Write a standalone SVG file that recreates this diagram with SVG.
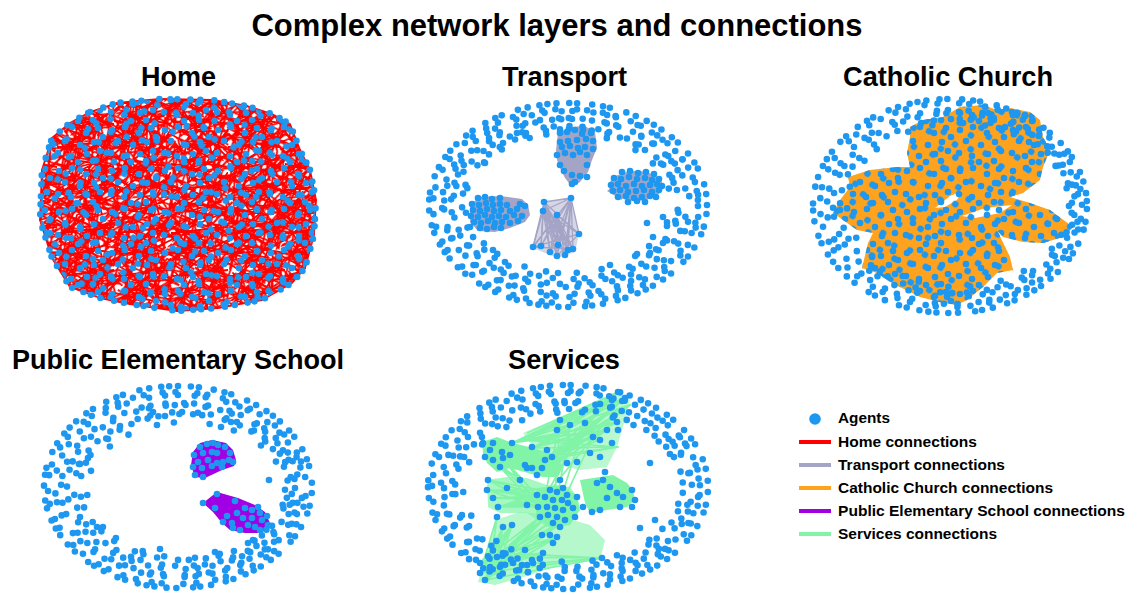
<svg xmlns="http://www.w3.org/2000/svg" width="1141" height="595" viewBox="0 0 1141 595">
<style>
text{font-family:"Liberation Sans",Arial,Helvetica,sans-serif;font-weight:bold;fill:#000}
.h1{font-size:31px}
.h2{font-size:27px}
.lg{font-size:15.5px}
.ring{fill:none;stroke:#1d97f0;stroke-width:6.6;stroke-linecap:round}
.da{stroke-dasharray:0 9 0 13 0 8 0 15 0 11 0 7 0 17 0 10 0 12 0 8}
.db{stroke-dasharray:0 12 0 8 0 14 0 9 0 16 0 10 0 7 0 13 0 11 0 9}
.dc{stroke-dasharray:0 14 0 10 0 8 0 12 0 9 0 18 0 11 0 7 0 13 0 10}
.sa{stroke-dasharray:0 13 0 17 0 11 0 21 0 14 0 9 0 23 0 16}
.sb{stroke-dasharray:0 16 0 11 0 19 0 13 0 22 0 10 0 16 0 13}
.sc{stroke-dasharray:0 19 0 10 0 14 0 22 0 12 0 18 0 9 0 15}
.sd{stroke-dasharray:0 11 0 20 0 15 0 12 0 25 0 13 0 17 0 9}
.se{stroke-dasharray:0 22 0 30 0 17 0 36 0 25 0 31}
.pts{fill:none;stroke:none;marker-start:url(#dot);marker-mid:url(#dot);marker-end:url(#dot)}
.hd circle{fill:#1d97f0}
.red{fill:none;stroke:#ff0000;stroke-width:1.8;stroke-linecap:round;stroke-linejoin:round}
.gry{fill:none;stroke:#a4a4c6;stroke-width:1.3;stroke-linejoin:round}
.org{fill:none;stroke:#ffa31e;stroke-width:1.4;stroke-linejoin:round}
.grn{fill:none;stroke:#82f4a8;stroke-width:1.7;stroke-linejoin:round}
</style>
<defs>
<marker id="dot" viewBox="-4 -4 8 8" refX="0" refY="0" markerWidth="8" markerHeight="8" markerUnits="userSpaceOnUse"><circle r="3.3" fill="#1d97f0"/></marker>
<!-- scattered agent tiles -->
<pattern id="hd1" class="hd" width="53" height="41" patternUnits="userSpaceOnUse">
<circle cx="6" cy="7" r="3.3"/><circle cx="19" cy="4" r="3.3"/><circle cx="33" cy="10" r="3.3"/><circle cx="45" cy="5" r="3.3"/><circle cx="12" cy="18" r="3.3"/><circle cx="27" cy="22" r="3.3"/><circle cx="41" cy="19" r="3.3"/><circle cx="50" cy="14" r="3.3"/><circle cx="-3" cy="14" r="3.3"/><circle cx="5" cy="30" r="3.3"/><circle cx="18" cy="33" r="3.3"/><circle cx="34" cy="31" r="3.3"/><circle cx="47" cy="28" r="3.3"/><circle cx="25" cy="39" r="3.3"/><circle cx="25" cy="-2" r="3.3"/><circle cx="40" cy="38" r="3.3"/><circle cx="40" cy="-3" r="3.3"/>
</pattern>
<pattern id="hd2" class="hd" width="67" height="59" patternUnits="userSpaceOnUse" patternTransform="rotate(31)">
<circle cx="8" cy="6" r="3.3"/><circle cx="24" cy="12" r="3.3"/><circle cx="39" cy="4" r="3.3"/><circle cx="55" cy="9" r="3.3"/><circle cx="15" cy="24" r="3.3"/><circle cx="31" cy="29" r="3.3"/><circle cx="47" cy="21" r="3.3"/><circle cx="62" cy="26" r="3.3"/><circle cx="6" cy="40" r="3.3"/><circle cx="22" cy="45" r="3.3"/><circle cx="38" cy="41" r="3.3"/><circle cx="53" cy="37" r="3.3"/><circle cx="12" cy="56" r="3.3"/><circle cx="12" cy="-3" r="3.3"/><circle cx="29" cy="56" r="3.3"/><circle cx="29" cy="-3" r="3.3"/><circle cx="45" cy="52" r="3.3"/><circle cx="60" cy="47" r="3.3"/><circle cx="36" cy="17" r="3.3"/>
</pattern>
<!-- household edge tiles -->
<pattern id="hl1" width="57" height="43" patternUnits="userSpaceOnUse">
<path class="red" d="M0 5L40 30M10 0L55 20M3 43L50 8M20 43L57 25M0 25L30 0M25 43L5 15M45 43L35 0M57 38L12 30M0 18L57 12M30 43L57 0M8 43L20 0M40 43L0 35M50 30L15 40M57 5L28 22"/>
</pattern>
<pattern id="hl2" width="71" height="61" patternUnits="userSpaceOnUse" patternTransform="rotate(23)">
<path class="red" d="M0 10L60 40M15 0L70 35M0 55L45 5M25 61L71 20M5 30L40 0M35 61L10 20M60 61L52 0M71 50L20 42M0 25L71 15M40 61L71 5M12 61L30 0M55 61L0 48M66 30L22 55M71 8L35 30M3 0L25 61"/>
</pattern>
<pattern id="hl3" width="43" height="37" patternUnits="userSpaceOnUse" patternTransform="rotate(-41)">
<path class="red" d="M0 4L30 26M8 0L42 16M2 37L38 6M15 37L43 20M0 20L24 0M20 37L4 12M34 37L28 0M43 30L10 24M0 14L43 9M24 37L43 0M5 37L12 0"/>
</pattern>
<pattern id="hl4" width="49" height="53" patternUnits="userSpaceOnUse" patternTransform="rotate(67)">
<path class="red" d="M0 8L49 30M6 0L20 53M0 40L38 0M22 53L49 12M0 22L44 53M30 0L49 45M0 50L49 3M14 0L0 33M35 53L3 0M49 20L10 53"/>
</pattern>
<polygon id="homeShape" points="90,112 117,103 160,99 212,100 247,106 272,114 290,124 300,150 310,170 316,200 314,235 305,268 292,283 262,300 218,308 177,311 130,304 100,298 70,287 52,258 40,220 42,170 52,138 70,123"/>
<polygon id="churchShape" points="910,127 923,120 943,117 960,107 983,105 997,110 1010,108 1030,112 1040,120 1043,137 1050,150 1043,167 1040,180 1023,193 1010,197 1030,203 1050,210 1073,227 1063,237 1043,243 1023,242 1003,237 997,230 1010,257 1013,270 997,273 983,287 967,300 957,305 943,303 920,297 900,287 887,280 877,273 862,268 868,243 873,233 857,230 843,220 833,213 840,200 850,187 848,177 870,170 897,167 910,167 907,153 910,137"/>
</defs>

<rect width="1141" height="595" fill="#fff"/>

<text class="h1" x="557" y="36" text-anchor="middle" textLength="611" lengthAdjust="spacingAndGlyphs">Complex network layers and connections</text>

<!-- Home layer -->
<g id="home">
<text class="h2" x="178.5" y="86" text-anchor="middle" textLength="75" lengthAdjust="spacingAndGlyphs">Home</text>
<g id="home-edges">
<use href="#homeShape" fill="url(#hl1)"/>
<use href="#homeShape" fill="url(#hl2)"/>
<use href="#homeShape" fill="url(#hl3)"/>
<use href="#homeShape" fill="url(#hl4)"/>
<use href="#homeShape" class="red"/>
<path class="red" d="M90 112L130 140M117 103L150 130M272 114L240 150M300 150L270 170M316 200L280 190M305 268L270 250M262 300L240 270M177 311L190 280M100 298L130 270M52 258L80 240M40 220L75 210M42 170L80 180M52 138L90 150M70 123L120 160M160 99L140 140M247 106L220 140M290 283L250 260M130 304L160 270M45 190L110 230M310 170L250 200M212 100L260 150M70 287L120 250M60 200L150 260M200 130L300 230M90 270L230 210M120 120L60 240M250 290L300 180M150 180L280 270"/>
</g>
<g id="home-agents">
<use href="#homeShape" fill="url(#hd1)"/>
<use href="#homeShape" fill="url(#hd2)"/>
<use href="#homeShape" class="ring dc"/>
</g>
</g>

<!-- Transport layer -->
<g id="transport">
<text class="h2" x="564.5" y="86" text-anchor="middle" textLength="125" lengthAdjust="spacingAndGlyphs">Transport</text>
<g id="transport-edges">
<polygon fill="#a4a4c6" points="556,150 558,133 570,127 585,126 595,132 597,148 592,160 588,172 580,182 572,187 565,178 560,168 557,160"/>
<ellipse fill="#a4a4c6" cx="636" cy="186" rx="27" ry="15"/>
<polygon fill="#a4a4c6" points="607,191 622,179 622,200"/>
<polygon fill="#a4a4c6" points="470,205 480,197 500,196 522,199 528,205 530,215 525,222 510,228 495,232 478,231 470,222"/>
<polygon fill="#a4a4c6" opacity="0.45" points="544,202 571,198 579,234 575,252 557,258 533,248"/>
<path class="gry" d="M544 202L579 234L571 198L533 247L544 202L541 246L571 198L550 252L544 202L557 256L571 198L565 255L544 202L573 249L571 198L558 245L544 202L567 243L571 198L568 250L544 202L571 198"/>
<path class="gry" d="M543 211L579 234L557 215L533 247L543 211L541 246L557 215L550 252L543 211L557 256L557 215L565 255L543 211L573 249L557 215L558 245L543 211L567 243L557 215L568 250L543 211L571 198M579 234L533 247M579 234L557 256M533 247L573 249"/>
</g>
<g id="transport-agents">
<ellipse class="ring da" cx="568" cy="205" rx="139" ry="102"/>
<ellipse class="ring sb" cx="566" cy="206" rx="133" ry="97" style="stroke-dashoffset:5"/>
<ellipse class="ring sa" cx="570" cy="204" rx="128" ry="93" style="stroke-dashoffset:11"/>
<ellipse class="ring sc" cx="567" cy="206" rx="123" ry="88" style="stroke-dashoffset:3"/>
<ellipse class="ring sd" cx="569" cy="203" rx="118" ry="84" style="stroke-dashoffset:17"/>
<ellipse class="ring sb" cx="566" cy="205" rx="113" ry="79" style="stroke-dashoffset:8"/>
<ellipse class="ring sa" cx="570" cy="204" rx="108" ry="75" style="stroke-dashoffset:24"/>
<ellipse class="ring se" cx="568" cy="203" rx="103" ry="70" style="stroke-dashoffset:2"/>
<path class="pts" d="M485 163 503 143 517 133 526 133 470 227 647 223 663 217 667 226 558 273 610 265 637 254 650 253 653 237 663 243 493 250 505 262"/>
<path class="pts" d="M560 133 567 132 575 130 583 130 591 133 560 142 568 141 577 140 586 139 593 141 562 147 570 146 578 148 585 147 593 149 557 155 565 153 573 155 580 152 587 155 560 165 587 165 564 171 572 175 580 176 587 177 575 182 572 184"/>
<path class="pts" d="M622 172 630 171 638 173 646 172 654 174 614 178 621 179 629 177 637 179 645 178 652 180 659 179 611 185 618 184 626 186 634 184 642 186 650 185 657 184 662 186 613 191 620 190 628 192 636 191 644 190 652 192 659 190 618 197 626 196 634 198 642 197 650 196 656 197 628 202 637 201 645 202"/>
<path class="pts" d="M478 198 485 197 492 199 500 198 472 204 479 205 486 203 493 205 500 204 507 205 520 204 525 206 473 210 480 211 487 209 494 211 501 210 510 211 517 209 471 216 478 217 485 215 492 217 499 216 506 217 514 215 522 216 474 222 481 223 488 221 495 223 502 222 510 223 518 221 480 228 487 229 494 227 501 228"/>
<path class="pts" d="M544 202 571 198 543 211 557 215 579 234 533 247 541 246 550 252 557 256 565 255 573 249 558 245 568 250"/>
</g>
</g>

<!-- Catholic Church layer -->
<g id="church">
<text class="h2" x="948" y="86" text-anchor="middle" textLength="210" lengthAdjust="spacingAndGlyphs">Catholic Church</text>
<g id="church-edges">
<use href="#churchShape" fill="#ffa31e"/>
<path class="org" d="M1073 227L1040 215M1073 227L1030 230M833 213L870 200M833 213L880 225M862 268L900 250M967 300L960 270M1050 150L1020 160M960 107L990 140M910 127L940 150M1013 270L985 250M843 220L900 215"/>
<polygon fill="#fff" points="935,208 950,196 962,191 957,200 945,207"/>
<polygon fill="#fff" points="962,216 985,208 1012,205 1000,213 975,218"/>
</g>
<g id="church-agents">
<use href="#churchShape" fill="url(#hd1)"/>
<use href="#churchShape" fill="url(#hd2)"/>
<ellipse class="ring da" cx="950" cy="206" rx="137" ry="107" style="stroke-dashoffset:6"/>
<ellipse class="ring sb" cx="951" cy="205" rx="131" ry="102" style="stroke-dashoffset:2"/>
<ellipse class="ring sa" cx="953" cy="207" rx="126" ry="97" style="stroke-dashoffset:15"/>
<ellipse class="ring sc" cx="954" cy="205" rx="121" ry="92" style="stroke-dashoffset:9"/>
<ellipse class="ring sd" cx="956" cy="206" rx="116" ry="87" style="stroke-dashoffset:4"/>
<ellipse class="ring se" cx="958" cy="205" rx="111" ry="82" style="stroke-dashoffset:21"/>
</g>
</g>

<!-- Public Elementary School layer -->
<g id="school">
<text class="h2" x="178" y="369" text-anchor="middle" textLength="332" lengthAdjust="spacingAndGlyphs">Public Elementary School</text>
<g id="school-edges">
<polygon fill="#a100e4" points="193,452 200,443 212,440 226,443 233,450 236,460 234,466 222,470 205,478 195,477 191,465"/>
<polygon fill="#a100e4" points="203,503 217,492 238,498 255,505 265,512 270,523 262,533 245,533 230,530 222,523 213,512"/>
</g>
<g id="school-agents">
<ellipse class="ring da" cx="178" cy="487" rx="134" ry="101" style="stroke-dashoffset:3"/>
<ellipse class="ring sb" cx="177" cy="488" rx="129" ry="96" style="stroke-dashoffset:8"/>
<ellipse class="ring sa" cx="179" cy="486" rx="124" ry="91" style="stroke-dashoffset:1"/>
<ellipse class="ring sc" cx="180" cy="489" rx="119" ry="86" style="stroke-dashoffset:5"/>
<ellipse class="ring sd" cx="181" cy="487" rx="114" ry="82" style="stroke-dashoffset:30"/>
<ellipse class="ring sb" cx="183" cy="489" rx="109" ry="77" style="stroke-dashoffset:11"/>
<ellipse class="ring sa" cx="184" cy="487" rx="104" ry="73" style="stroke-dashoffset:19"/>
<ellipse class="ring se" cx="186" cy="490" rx="99" ry="68" style="stroke-dashoffset:7"/>
<path class="pts" d="M165 416 153 412 108 439 88 458 79 464 221 427 231 422 269 480 97 527 80 517 160 549 215 552 248 543"/>
<path class="pts" d="M200 447 207 444 213 443 218 445 225 447 230 453 194 455 203 453 212 452 217 453 198 462 208 460 217 463 223 462 229 460 233 462 193 467 202 468 212 466 222 467 195 475 203 477"/>
<path class="pts" d="M203 503 217 494 215 508 235 501 227 516 237 513 245 508 252 510 258 507 260 513 223 522 232 523 243 518 252 518 262 520 233 528 240 530 248 525 255 527 260 530 268 525 267 516"/>
</g>
</g>

<!-- Services layer -->
<g id="services">
<text class="h2" x="564" y="369" text-anchor="middle" textLength="112" lengthAdjust="spacingAndGlyphs">Services</text>
<g id="services-edges">
<polygon fill="#82f4a8" opacity="0.55" points="523,433 560,417 600,403 618,392 630,400 625,420 617,447 607,467 580,470 552,463 540,457"/>
<polygon fill="#82f4a8" opacity="0.6" points="478,582 495,520 520,512 555,515 590,525 605,540 600,560 560,565 530,575 495,585"/>
<polygon fill="#82f4a8" opacity="0.7" points="487,480 507,477 527,478 547,485 570,487 577,497 573,513 563,527 547,527 527,513 500,513 488,507"/>
<polygon fill="#82f4a8" points="482,442 497,437 513,443 533,448 557,455 563,467 558,477 543,477 528,473 510,468 497,472 487,463 483,453"/>
<polygon fill="#82f4a8" points="537,488 560,485 577,495 580,510 570,525 550,528 536,515"/>
<polygon fill="#82f4a8" points="580,480 600,477 613,475 627,483 633,490 635,500 627,507 607,510 590,513 585,503"/>
<path class="grn" d="M533 448L618 392L522 440L625 398L533 448L630 405L522 440L610 400L533 448L607 430L522 440L617 422L533 448L618 447L522 440L600 440"/>
<path class="grn" d="M545 460L618 392L557 455L625 398L545 460L630 405L557 455L610 400L545 460L607 430L557 455L617 422L545 460L618 447L557 455L600 440"/>
<path class="grn" d="M540 475L618 392L512 443L625 398L540 475L630 405L512 443L610 400L540 475L607 430L512 443L617 422M527 433L618 392"/>
<path class="grn" d="M480 573L512 525L490 567L503 527L480 573L540 517L490 567L548 515L480 573L557 517L490 567L557 537L480 573L602 558L490 567L565 520L480 573L497 517L490 567L525 550L480 573L543 553"/>
<path class="grn" d="M485 580L512 525L497 557L503 527L485 580L540 517L497 557L548 515L485 580L557 537L497 557L602 558L485 580L565 520L497 557L543 553L480 563L512 525L503 553L540 517L480 563L557 537L503 553L602 558"/>
<path class="grn" d="M487 490L545 497L498 507L553 500L487 490L538 507L498 507L567 495L487 490L550 490L498 507L527 505M493 498L545 497L488 480L553 500L493 498L567 495L488 480L538 507"/>
<path class="grn" d="M545 497L560 420L553 523L585 423L545 497L593 437L553 523L570 425M503 458L538 507L493 460L547 507L503 458L520 480L493 460L538 507"/>
</g>
<g id="services-agents">
<ellipse class="ring da" cx="568" cy="487" rx="140" ry="102" style="stroke-dashoffset:4"/>
<ellipse class="ring sb" cx="566" cy="488" rx="134" ry="97" style="stroke-dashoffset:9"/>
<ellipse class="ring sa" cx="570" cy="486" rx="129" ry="93" style="stroke-dashoffset:2"/>
<ellipse class="ring sc" cx="568" cy="489" rx="124" ry="88" style="stroke-dashoffset:6"/>
<ellipse class="ring sd" cx="571" cy="487" rx="119" ry="84" style="stroke-dashoffset:13"/>
<ellipse class="ring sb" cx="569" cy="488" rx="114" ry="79" style="stroke-dashoffset:22"/>
<ellipse class="ring se" cx="572" cy="487" rx="109" ry="75" style="stroke-dashoffset:5"/>
<path class="pts" d="M560 420 570 425 557 430 585 423 593 437 600 440 607 430 617 422 618 430 612 443 600 457 605 472 590 453 577 462 567 463 552 457 547 450 532 447 545 460 542 468 560 480 618 392 625 398 612 400"/>
<path class="pts" d="M483 443 490 450 485 457 493 460 502 452 503 458 512 443 493 443 500 467 510 455 525 465 532 468 537 475 527 468 488 480 487 490 493 498 498 507 507 488 520 480 527 505 497 517"/>
<path class="pts" d="M550 490 557 492 563 488 567 495 545 497 553 500 562 500 568 503 538 507 547 507 555 508 563 510 573 508 540 517 548 515 557 517 565 520 553 523 560 527 575 517 577 497 537 495 583 507"/>
<path class="pts" d="M597 483 603 480 610 487 617 493 623 497 632 490 635 500 632 507 607 498 600 510 592 512 620 507 650 463 640 528 655 520"/>
<path class="pts" d="M480 573 485 580 490 567 480 563 497 557 503 553 500 567 513 563 525 550 532 560 543 553 553 543 557 537 542 535 550 535 512 525 503 527 602 558 522 565 528 572"/>
</g>
</g>

<!-- Legend -->
<g id="legend">
<circle cx="815" cy="419" r="5.8" fill="#1d97f0"/>
<text class="lg" x="838" y="423" textLength="52" lengthAdjust="spacingAndGlyphs">Agents</text>
<line x1="799" y1="442" x2="831" y2="442" stroke="#ff0000" stroke-width="4"/>
<text class="lg" x="838" y="447" textLength="139" lengthAdjust="spacingAndGlyphs">Home connections</text>
<line x1="799" y1="465" x2="831" y2="465" stroke="#a4a4c6" stroke-width="4"/>
<text class="lg" x="838" y="470" textLength="167" lengthAdjust="spacingAndGlyphs">Transport connections</text>
<line x1="799" y1="488" x2="831" y2="488" stroke="#ffa31e" stroke-width="4"/>
<text class="lg" x="838" y="493" textLength="215" lengthAdjust="spacingAndGlyphs">Catholic Church connections</text>
<line x1="799" y1="511" x2="831" y2="511" stroke="#a100e4" stroke-width="4"/>
<text class="lg" x="838" y="516" textLength="287" lengthAdjust="spacingAndGlyphs">Public Elementary School connections</text>
<line x1="799" y1="534" x2="831" y2="534" stroke="#82f4a8" stroke-width="4"/>
<text class="lg" x="838" y="539" textLength="159" lengthAdjust="spacingAndGlyphs">Services connections</text>
</g>
</svg>
